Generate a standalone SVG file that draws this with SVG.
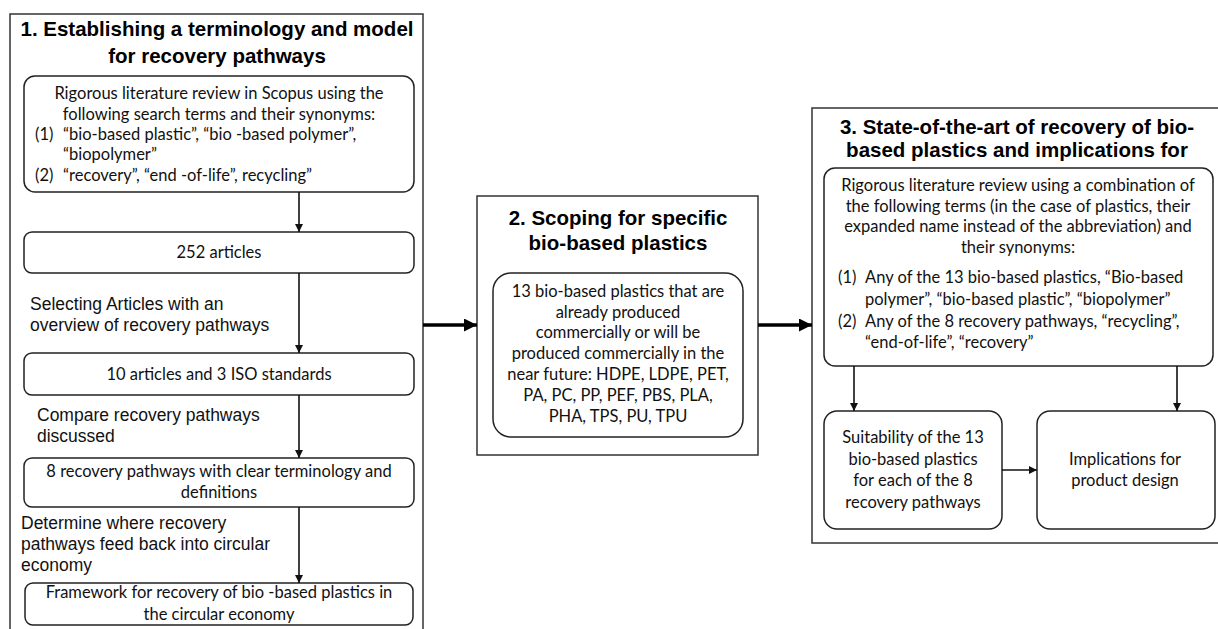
<svg xmlns="http://www.w3.org/2000/svg" width="1218" height="629" viewBox="0 0 1218 629">
<style>
.panel{fill:#fff;stroke:#333;stroke-width:1.5}
.box{fill:#fff;stroke:#222;stroke-width:1.5}
.title{font-family:"Liberation Sans",Arial,sans-serif;font-weight:bold;font-size:20.5px;fill:#000;text-anchor:middle}
.t{font-family:Lato,"Noto Sans",sans-serif;font-size:16.5px;fill:#111}
.c{text-anchor:middle}
.lbl{font-family:"Liberation Sans",Arial,sans-serif;font-size:17.5px;fill:#111}
.thin{stroke:#111;stroke-width:1.6;fill:none}
.thick{stroke:#000;stroke-width:3.5;fill:none}
</style>
<defs>
<marker id="ah" viewBox="0 0 10 10" refX="10" refY="5" markerWidth="8" markerHeight="8" markerUnits="userSpaceOnUse" orient="auto"><path d="M0,0 L10,5 L0,10 z" fill="#111"/></marker>
<marker id="ahb" viewBox="0 0 10 10" refX="10" refY="5" markerWidth="13" markerHeight="13" markerUnits="userSpaceOnUse" orient="auto"><path d="M0,0 L10,5 L0,10 z" fill="#000"/></marker>
</defs>
<rect width="1218" height="629" fill="#fff"/>

<g id="panel1">
<rect class="panel" x="10" y="14" width="413" height="630"/>
<text class="title" x="217" y="36">1. Establishing a terminology and model</text>
<text class="title" x="217" y="63">for recovery pathways</text>
</g>
<g id="panel2">
<rect class="panel" x="477" y="196" width="281" height="259"/>
<text class="title" x="618" y="225">2. Scoping for specific</text>
<text class="title" x="618" y="250">bio-based plastics</text>
</g>
<g id="panel3">
<rect class="panel" x="812" y="108" width="420" height="435"/>
<text class="title" x="1017" y="134">3. State-of-the-art of recovery of bio-</text>
<text class="title" x="1017" y="157">based plastics and implications for</text>
</g>

<g id="n1">
<rect class="box" x="24" y="76" width="390" height="116" rx="11"/>
<text class="t c" x="219" y="99">Rigorous literature review in Scopus using the</text>
<text class="t c" x="219" y="120">following search terms and their synonyms:</text>
<text class="t" x="35" y="140">(1)</text><text class="t" x="63" y="140">“bio-based plastic”, “bio -based polymer”,</text>
<text class="t" x="63" y="160">“biopolymer”</text>
<text class="t" x="35" y="181">(2)</text><text class="t" x="63" y="181">“recovery”, “end -of-life”, recycling”</text>
</g>
<g id="n2">
<rect class="box" x="24" y="232" width="390" height="41" rx="8"/>
<text class="t c" x="219" y="258">252 articles</text>
</g>
<g id="n3">
<rect class="box" x="24" y="353" width="390" height="42" rx="8"/>
<text class="t c" x="219" y="380">10 articles and 3 ISO standards</text>
</g>
<g id="n4">
<rect class="box" x="24" y="458" width="390" height="49" rx="8"/>
<text class="t c" x="219" y="477">8 recovery pathways with clear terminology and</text>
<text class="t c" x="219" y="498">definitions</text>
</g>
<g id="n5">
<rect class="box" x="25" y="583" width="388" height="42" rx="8"/>
<text class="t c" x="219" y="598">Framework for recovery of bio -based plastics in</text>
<text class="t c" x="219" y="620">the circular economy</text>
</g>
<g id="n6">
<rect class="box" x="493" y="273" width="250" height="164" rx="18"/>
<text class="t c" x="618" y="297">13 bio-based plastics that are</text>
<text class="t c" x="618" y="318">already produced</text>
<text class="t c" x="618" y="338">commercially or will be</text>
<text class="t c" x="618" y="359">produced commercially in the</text>
<text class="t c" x="618" y="380">near future: HDPE, LDPE, PET,</text>
<text class="t c" x="618" y="401">PA, PC, PP, PEF, PBS, PLA,</text>
<text class="t c" x="618" y="422">PHA, TPS, PU, TPU</text>
</g>
<g id="n7">
<rect class="box" x="824" y="168" width="389" height="198" rx="11"/>
<text class="t c" x="1018" y="191">Rigorous literature review using a combination of</text>
<text class="t c" x="1018" y="212">the following terms (in the case of plastics, their</text>
<text class="t c" x="1018" y="232">expanded name instead of the abbreviation) and</text>
<text class="t c" x="1018" y="253">their synonyms:</text>
<text class="t" x="838" y="283">(1)</text><text class="t" x="865" y="283">Any of the 13 bio-based plastics, “Bio-based</text>
<text class="t" x="865" y="305">polymer”, “bio-based plastic”, “biopolymer”</text>
<text class="t" x="838" y="327">(2)</text><text class="t" x="865" y="327">Any of the 8 recovery pathways, “recycling”,</text>
<text class="t" x="865" y="348">“end-of-life”, “recovery”</text>
</g>
<g id="n8">
<rect class="box" x="824" y="411" width="178" height="118" rx="13"/>
<text class="t c" x="913" y="443">Suitability of the 13</text>
<text class="t c" x="913" y="465">bio-based plastics</text>
<text class="t c" x="913" y="486">for each of the 8</text>
<text class="t c" x="913" y="508">recovery pathways</text>
</g>
<g id="n9">
<rect class="box" x="1037" y="411" width="178" height="118" rx="13"/>
<text class="t c" x="1125" y="465">Implications for</text>
<text class="t c" x="1125" y="486">product design</text>
</g>

<g id="connectors">
<line class="thin" x1="299" y1="192" x2="299" y2="232" marker-end="url(#ah)"/>
<line class="thin" x1="299" y1="273" x2="299" y2="353" marker-end="url(#ah)"/>
<line class="thin" x1="299" y1="395" x2="299" y2="458" marker-end="url(#ah)"/>
<line class="thin" x1="299" y1="507" x2="299" y2="583" marker-end="url(#ah)"/>
<line class="thick" x1="423" y1="325" x2="477" y2="325" marker-end="url(#ahb)"/>
<line class="thick" x1="758" y1="325" x2="812" y2="325" marker-end="url(#ahb)"/>
<line class="thin" x1="854" y1="366" x2="854" y2="411" marker-end="url(#ah)"/>
<line class="thin" x1="1177" y1="366" x2="1177" y2="411" marker-end="url(#ah)"/>
<line class="thin" x1="1002" y1="470" x2="1037" y2="470" marker-end="url(#ah)"/>
<text class="lbl" x="30" y="310">Selecting Articles with an</text>
<text class="lbl" x="30" y="331">overview of recovery pathways</text>
<text class="lbl" x="37" y="421">Compare recovery pathways</text>
<text class="lbl" x="37" y="442">discussed</text>
<text class="lbl" x="21" y="529">Determine where recovery</text>
<text class="lbl" x="21" y="550">pathways feed back into circular</text>
<text class="lbl" x="21" y="571">economy</text>
</g>
</svg>
